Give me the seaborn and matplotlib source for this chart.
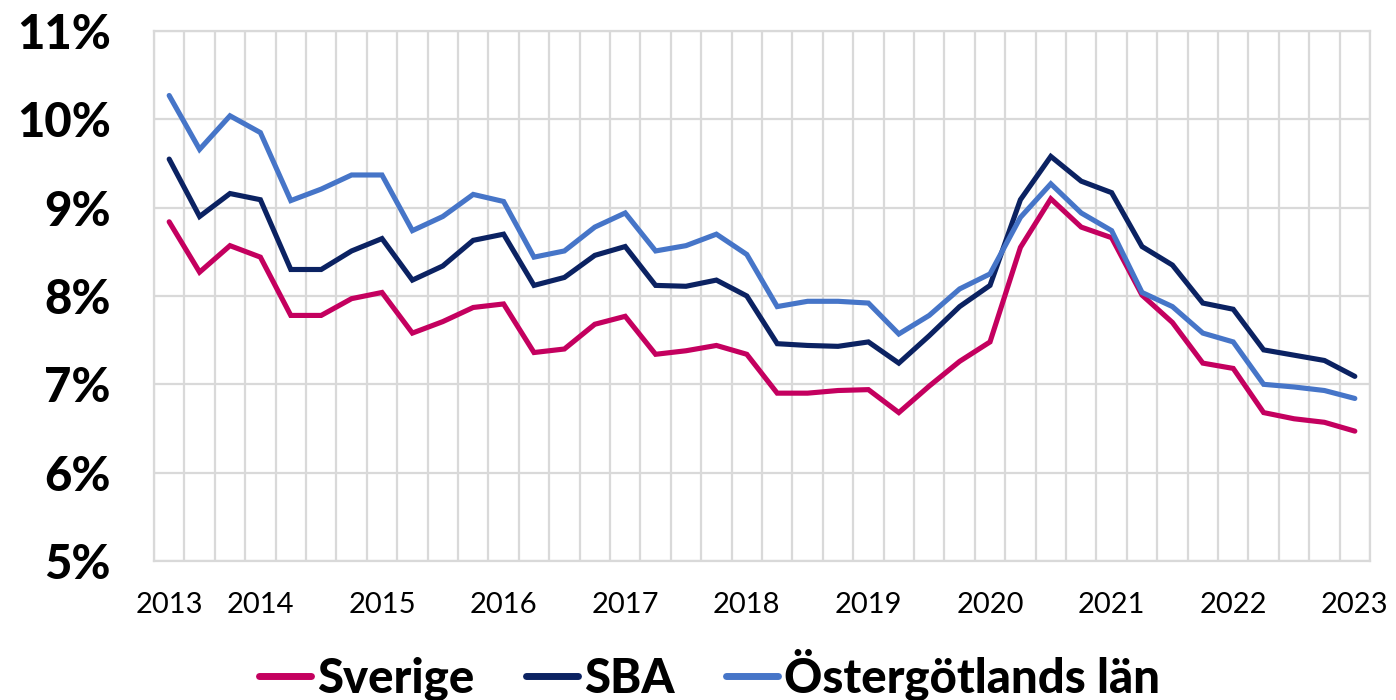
import matplotlib.pyplot as plt
import numpy as np
import pandas as pd
import seaborn as sns
from matplotlib.ticker import FixedLocator, FuncFormatter

OUTPUT_PATH = "out.png"

# Quarterly values, 40 quarters
sverige = [8.84, 8.27, 8.57, 8.44, 7.78, 7.78, 7.97, 8.04, 7.58, 7.71,
           7.87, 7.91, 7.36, 7.40, 7.68, 7.77, 7.34, 7.38, 7.44, 7.34,
           6.90, 6.90, 6.93, 6.94, 6.68, 6.98, 7.26, 7.48, 8.55, 9.10,
           8.78, 8.66, 8.01, 7.70, 7.24, 7.18, 6.68, 6.61, 6.57, 6.47]
sba = [9.55, 8.90, 9.16, 9.09, 8.30, 8.30, 8.51, 8.65, 8.18, 8.34,
       8.63, 8.70, 8.12, 8.21, 8.46, 8.56, 8.12, 8.11, 8.18, 8.00,
       7.46, 7.44, 7.43, 7.48, 7.24, 7.55, 7.88, 8.12, 9.09, 9.58,
       9.30, 9.17, 8.56, 8.35, 7.92, 7.85, 7.39, 7.33, 7.27, 7.09]
ostergotland = [10.27, 9.66, 10.04, 9.85, 9.08, 9.21, 9.37, 9.37, 8.74, 8.90,
                9.15, 9.07, 8.44, 8.51, 8.78, 8.94, 8.51, 8.57, 8.70, 8.47,
                7.88, 7.94, 7.94, 7.92, 7.57, 7.78, 8.08, 8.25, 8.89, 9.27,
                8.94, 8.74, 8.04, 7.88, 7.58, 7.48, 7.00, 6.97, 6.93, 6.84]
series_names = ["Sverige", "SBA", "Östergötlands län"]
year_labels = [str(y) for y in range(2013, 2024)]
colors = ["#C4005F", "#0B2262", "#4675C8"]


def main() -> None:
    n = len(sverige)
    df = pd.DataFrame({
        "q": np.tile(np.arange(n), 3),
        "value": sverige + sba + ostergotland,
        "serie": np.repeat(series_names, n),
    })

    sns.set_theme(style="white")
    plt.rcParams["font.family"] = ["Lato", "DejaVu Sans"]

    fig, ax = plt.subplots(figsize=(13.96, 7.0), dpi=100)
    fig.subplots_adjust(left=0.1103, right=0.9814, top=0.9557, bottom=0.1986)

    sns.lineplot(data=df, x="q", y="value", hue="serie", hue_order=series_names,
                 palette=colors, linewidth=3.7, ax=ax, legend=True)
    for line in ax.lines:
        line.set_solid_capstyle("round")
        line.set_solid_joinstyle("miter")

    ax.set_xlim(-0.5, n - 0.5)
    ax.set_ylim(5, 11)
    ax.set_xlabel("")
    ax.set_ylabel("")

    ax.xaxis.set_minor_locator(FixedLocator(np.arange(n + 1) - 0.5))
    ax.grid(which="minor", axis="x", color="#D9D9D9", linewidth=1.6)
    ax.yaxis.set_major_locator(FixedLocator(range(5, 12)))
    ax.grid(which="major", axis="y", color="#D9D9D9", linewidth=1.6)
    ax.set_axisbelow(True)

    tick_pos = [0] + list(range(3, n, 4))
    ax.set_xticks(tick_pos)
    ax.set_xticklabels(year_labels, fontsize=21, color="black")
    ax.tick_params(axis="x", which="both", length=0, pad=22)
    ax.yaxis.set_major_formatter(FuncFormatter(lambda v, _: f"{v:.0f}%"))
    ax.tick_params(axis="y", length=0, pad=31)
    for lab in ax.get_yticklabels():
        lab.set_fontsize(34)
        lab.set_fontweight("black")
        lab.set_color("black")

    for side in ["left", "right", "top", "bottom"]:
        ax.spines[side].set_color("#D9D9D9")
        ax.spines[side].set_linewidth(1.6)

    leg = ax.legend(loc="center", bbox_to_anchor=(0.457, -0.215), ncol=3,
                    frameon=False, handlelength=1.1, handletextpad=0.12,
                    columnspacing=1.1, borderpad=0,
                    prop={"size": 34, "weight": "black"})
    for h in leg.get_lines():
        h.set_linewidth(5)
    for t in leg.get_texts():
        t.set_color("black")

    fig.savefig(OUTPUT_PATH, dpi=100)


if __name__ == "__main__":
    main()
